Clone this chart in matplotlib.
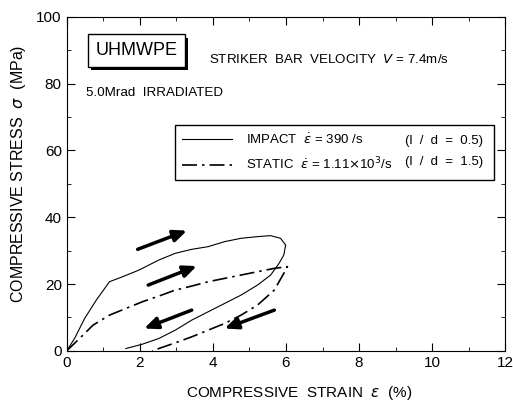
import matplotlib
matplotlib.use('Agg')
import matplotlib.pyplot as plt
import matplotlib.patheffects as pe
from matplotlib.lines import Line2D

plt.rcParams['font.family'] = ['Liberation Sans', 'DejaVu Sans']
plt.rcParams['mathtext.fontset'] = 'dejavusans'

# impact test (solid): loading then unloading
impact_strain = [0, 0.22, 0.49, 0.81, 1.17, 1.53, 1.98, 2.52, 2.97, 3.42, 3.87,
                 4.32, 4.77, 5.22, 5.58, 5.85, 5.99, 5.94, 5.81, 5.58,
                 5.22, 4.77, 4.32, 3.87, 3.42, 2.97, 2.52, 2.07, 1.62]
impact_stress = [0, 3.8, 9.7, 15.2, 20.7, 22.2, 24.2, 27.2, 29.2, 30.4, 31.2,
                 32.7, 33.7, 34.2, 34.5, 33.7, 31.7, 28.7, 26.2, 22.7,
                 19.7, 16.7, 14.2, 11.7, 9.2, 6.2, 3.7, 2.0, 0.7]

# static test (dash-dot)
static_strain = [0, 0.36, 0.72, 1.17, 1.62, 2.07, 2.52, 2.97, 3.42, 3.87, 4.32,
                 4.77, 5.22, 5.68, 6.04,
                 5.94, 5.68, 5.22, 4.77, 4.32, 3.87, 3.42, 2.97, 2.52, 2.34]
static_stress = [0, 3.8, 7.7, 10.7, 12.7, 14.7, 16.4, 18.2, 19.4, 20.7, 21.7,
                 22.7, 23.7, 24.7, 25.2,
                 23.2, 18.2, 13.7, 10.7, 8.2, 6.2, 4.2, 2.4, 0.7, 0]

# direction arrows (start, end)
arrows = [((1.94, 30.4), (3.29, 36.0)),
          ((2.23, 19.7), (3.56, 25.4)),
          ((3.42, 12.2), (2.12, 6.7)),
          ((5.68, 12.2), (4.32, 6.7))]

fig = plt.figure(figsize=(5.13, 4.01), dpi=100)
ax = fig.add_axes([0.130, 0.125, 0.855, 0.833])

dashdot = (0, (9, 3, 1.5, 3))
ax.plot(impact_strain, impact_stress, color='k', lw=0.8)
ax.plot(static_strain, static_stress, color='k', lw=1.2, linestyle=dashdot)

for start, end in arrows:
    ax.annotate('', xy=end, xytext=start,
                arrowprops=dict(arrowstyle='-|>,head_length=0.8,head_width=0.35',
                                color='k', lw=2.5, shrinkA=0, shrinkB=0))

ax.set_xlim(0, 12)
ax.set_ylim(0, 100)
ax.set_xticks(range(0, 13, 2))
ax.set_xticks(range(0, 13), minor=True)
ax.set_yticks(range(0, 101, 20))
ax.set_yticks(range(0, 101, 10), minor=True)
ax.tick_params(which='both', direction='in', top=True, right=True, labelsize=11)
ax.tick_params(which='major', length=6)
ax.tick_params(which='minor', length=3)

ax.set_xlabel(r'COMPRESSIVE  STRAIN  $\it{\varepsilon}$  (%)', fontsize=11)
ax.xaxis.set_label_coords(0.53, -0.098)
ax.set_ylabel(r'COMPRESSIVE STRESS  $\it{\sigma}$  (MPa)', fontsize=11.5)
ax.yaxis.set_label_coords(-0.088, 0.53)

t = ax.text(1.9, 89.9, 'UHMWPE', fontsize=13, ha='center', va='center',
            bbox=dict(boxstyle='square,pad=0.42', fc='white', ec='k', lw=1.0))
t.get_bbox_patch().set_path_effects(
    [pe.SimplePatchShadow(offset=(2.2, -2.2), shadow_rgbFace='k', alpha=1),
     pe.Normal()])
ax.text(3.88, 87.2, 'STRIKER  BAR  VELOCITY  $V$ = 7.4m/s', fontsize=9.6,
        va='center')
ax.text(0.54, 77.3, '5.0Mrad  IRRADIATED', fontsize=9.6, va='center')

handles = [Line2D([], [], color='k', lw=0.8),
           Line2D([], [], color='k', lw=1.2, linestyle=dashdot),
           Line2D([], [], color='none'),
           Line2D([], [], color='none')]
labels = [r'IMPACT  $\dot{\varepsilon}$ = 390 /s',
          r'STATIC  $\dot{\varepsilon}$ = 1.11$\times$10$^3$/s',
          '(l  /  d  =  0.5) ', '(l  /  d  =  1.5) ']
ax.legend(handles, labels, ncol=2, loc='upper left',
          bbox_to_anchor=(0.247, 0.677), borderaxespad=0, fontsize=9.5,
          frameon=True, fancybox=False, edgecolor='k', framealpha=1,
          handlelength=3.8, handletextpad=1.0, columnspacing=-3.8,
          borderpad=0.55, labelspacing=0.7)

fig.savefig('out.png', dpi=100)
